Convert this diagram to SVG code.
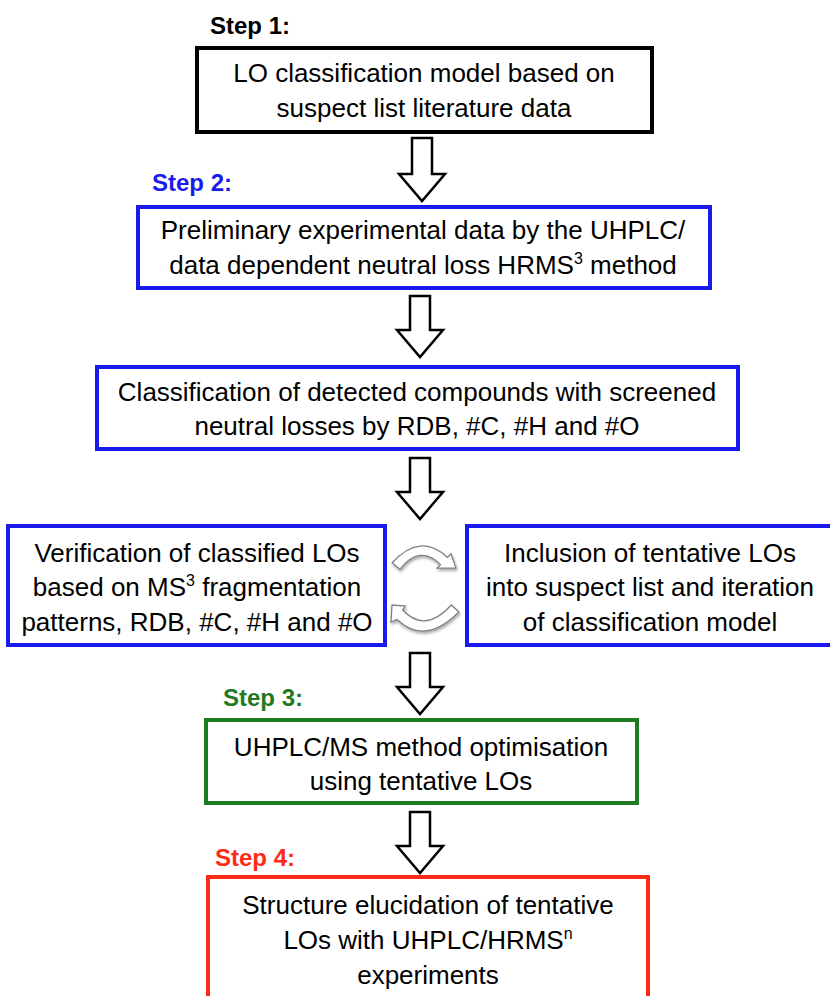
<svg xmlns="http://www.w3.org/2000/svg" width="830" height="996" viewBox="0 0 830 996">
<style>
.bg{fill:#ffffff}
.box{fill:#ffffff;stroke-width:4}
.k{stroke:#000000}
.b{stroke:#1a1aee}
.g{stroke:#1f7a1f}
.r{stroke:#ff2a14}
.t{font-family:"Liberation Sans",Arial,sans-serif;font-size:26px;fill:#000000;text-anchor:middle}
.step{font-family:"Liberation Sans",Arial,sans-serif;font-size:24px;font-weight:bold}
.sup{font-size:16px}
.arr{fill:#ffffff;stroke:#000000;stroke-width:2.5;stroke-linejoin:miter}
.curv{fill:#ffffff;stroke:#808080;stroke-width:1.3;filter:url(#sh)}
</style>
<defs>
<filter id="sh" x="-20%" y="-20%" width="140%" height="160%">
<feDropShadow dx="1" dy="2" stdDeviation="1.5" flood-color="#000000" flood-opacity="0.35"/>
</filter>
</defs>
<rect class="bg" x="0" y="0" width="830" height="996"/>

<g id="step1">
<text class="step" x="210" y="34" fill="#000000">Step 1:</text>
<rect class="box k" x="197" y="48" width="455" height="84"/>
<text class="t" x="424" y="82">LO classification model based on</text>
<text class="t" x="424" y="117">suspect list literature data</text>
</g>

<g id="step2">
<text class="step" x="152" y="191" fill="#1a1aee">Step 2:</text>
<rect class="box b" x="138" y="207" width="572" height="81"/>
<text class="t" x="423" y="239">Preliminary experimental data by the UHPLC/</text>
<text class="t" x="423" y="274">data dependent neutral loss HRMS<tspan class="sup" dy="-10">3</tspan><tspan dy="10"> method</tspan></text>
</g>

<g id="classification">
<rect class="box b" x="97" y="367" width="641" height="82"/>
<text class="t" x="417" y="401">Classification of detected compounds with screened</text>
<text class="t" x="417" y="435">neutral losses by RDB, #C, #H and #O</text>
</g>

<g id="verification">
<rect class="box b" x="8" y="526" width="377" height="119"/>
<text class="t" x="197" y="562">Verification of classified LOs</text>
<text class="t" x="197" y="596">based on MS<tspan class="sup" dy="-10">3</tspan><tspan dy="10"> fragmentation</tspan></text>
<text class="t" x="197" y="631">patterns, RDB, #C, #H and #O</text>
</g>

<g id="inclusion">
<rect class="box b" x="467" y="526" width="380" height="119"/>
<text class="t" x="650" y="562">Inclusion of tentative LOs</text>
<text class="t" x="650" y="596">into suspect list and iteration</text>
<text class="t" x="650" y="631">of classification model</text>
</g>

<g id="step3">
<text class="step" x="223" y="706" fill="#1f7a1f">Step 3:</text>
<rect class="box g" x="206" y="720" width="431" height="83"/>
<text class="t" x="421" y="756">UHPLC/MS method optimisation</text>
<text class="t" x="421" y="790">using tentative LOs</text>
</g>

<g id="step4">
<text class="step" x="215" y="866" fill="#ff2a14">Step 4:</text>
<rect class="box r" x="208" y="877" width="440" height="130"/>
<text class="t" x="428" y="914">Structure elucidation of tentative</text>
<text class="t" x="428" y="949">LOs with UHPLC/HRMS<tspan class="sup" dy="-10">n</tspan></text>
<text class="t" x="428" y="984">experiments</text>
</g>

<g id="connectors">
<path class="arr" d="M412 138 L432 138 L432 174 L445 174 L422 201 L399 174 L412 174 Z"/>
<path class="arr" d="M410 296 L430 296 L430 330 L443 330 L420 357 L397 330 L410 330 Z"/>
<path class="arr" d="M410 458 L430 458 L430 492 L443 492 L420 519 L397 492 L410 492 Z"/>
<path class="arr" d="M410 653 L430 653 L430 687 L443 687 L420 714 L397 687 L410 687 Z"/>
<path class="arr" d="M410 812 L430 812 L430 846 L443 846 L420 873 L397 846 L410 846 Z"/>
<path class="curv" d="M392.2 562.8 Q420 532 447.5 557.4 L450.9 553.8 L456 568 L437.1 568.2 L440.5 564.6 Q420 544 399.8 569.3 Z"/>
<path class="curv" d="M458.8 612 Q425 646 397 619.5 L391 622 L392 605 L405.2 606 L402.6 610 Q425 634 451.3 605 Z"/>
</g>
</svg>
